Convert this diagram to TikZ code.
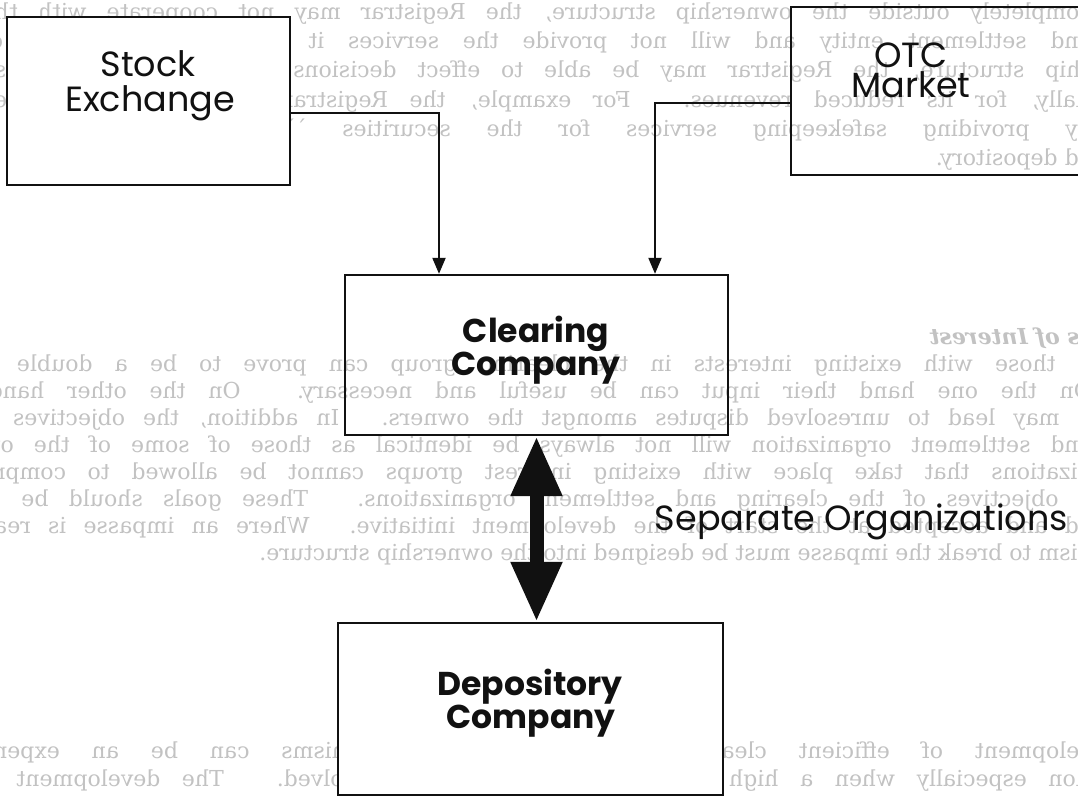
\documentclass[tikz,border=0pt]{standalone}
\usepackage{fontspec}
\usetikzlibrary{arrows.meta,calc}
\newfontfamily\bgserif{DejaVu Serif}
\newfontfamily\gothic{Poppins}
\definecolor{ink}{HTML}{111111}
\definecolor{showthrough}{HTML}{C2C2C2}
\begin{document}
\begin{tikzpicture}[x=1pt,y=-1pt,
  box/.style={draw=ink, line width=2.3pt, inner sep=0pt, rectangle},
  solidbox/.style={box, fill=white},
  lbl/.style={anchor=base, inner sep=0pt, text=ink, font=\gothic\fontsize{35}{35}\selectfont},
  blbl/.style={anchor=base, inner sep=0pt, text=ink, font=\gothic\bfseries\fontsize{33}{33}\selectfont},
  conn/.style={draw=ink, line width=2pt, -{Triangle[width=13pt,length=16pt]}},
  dblarrow/.style={draw=ink, line width=14pt, {Triangle[width=48pt,length=60pt]}-{Triangle[width=48pt,length=60pt]}},
  bgline/.style={anchor=base west, inner sep=0pt, transform shape, text=showthrough, font=\bgserif\fontsize{22}{22}\selectfont},
  bghead/.style={bgline, font=\bgserif\bfseries\itshape\fontsize{22}{22}\selectfont},
]
\useasboundingbox (0,0) rectangle (1078,799);
\fill[white] (0,0) rectangle (1078,799);

\begin{scope}
\clip (0,0) rectangle (1078,799);

% text printed on the reverse of the sheet, showing through mirrored
\begin{scope}[shift={(1078,0)}, xscale=-1]
  \node[bgline] (r1) at (-14,20) {\makebox[1110pt][s]{completely outside the ownership structure, the Registrar may not cooperate with the}};
  \node[bgline] (r2) at (-14,49) {\makebox[1110pt][s]{and settlement entity and will not provide the services it requires.  As part of}};
  \node[bgline] (r3) at (-14,78) {\makebox[1110pt][s]{ship structure, the Registrar may be able to effect decisions that would compromise}};
  \node[bgline] (r4) at (-14,108) {\makebox[1110pt][s]{tially, for its reduced revenues.  For example, the Registrar may decide it is nec}};
  \node[bgline] (r5) at (-14,137) {\makebox[1110pt][s]{by providing safekeeping services for the securities ``immobilized'' within a}};
  \node[bgline] (r6) at (-14,166) {ed depository.};

  \node[bghead] (h2) at (-2,344) {s of Interest};
  \node[bgline] (m1) at (-14,371) {\makebox[1110pt][s]{g those with existing interests in the clearing group can prove to be a double e}};
  \node[bgline] (m2) at (-14,398) {\makebox[1110pt][s]{On the one hand their input can be useful and necessary.  On the other hand,}};
  \node[bgline] (m3) at (-14,425) {\makebox[1110pt][s]{n may lead to unresolved disputes amongst the owners.  In addition, the objectives o}};
  \node[bgline] (m4) at (-14,452) {\makebox[1110pt][s]{and settlement organization will not always be identical as those of some of the ow}};
  \node[bgline] (m5) at (-14,479) {\makebox[1110pt][s]{nizations that take place with existing interest groups cannot be allowed to compro}};
  \node[bgline] (m6) at (-14,506) {\makebox[1110pt][s]{e objectives of the clearing and settlement organizations.  These goals should be cl}};
  \node[bgline] (m7) at (-14,533) {\makebox[1110pt][s]{ed and accepted at the start of the development initiative.  Where an impasse is reac}};
  \node[bgline] (m8) at (-14,560) {nism to break the impasse must be designed into the ownership structure.};

  \node[bgline] (b1) at (-14,758) {\makebox[1110pt][s]{velopment of efficient clearing and settlement mechanisms can be an expens}};
  \node[bgline] (b2) at (-14,786) {\makebox[1110pt][s]{tion especially when a high degree of automation is involved.  The development o}};
\end{scope}

% boxes
\node[solidbox, minimum width=283pt, minimum height=168pt] (se) at (148.5,101) {};
\node[box, minimum width=319pt, minimum height=168pt] (otc) at (950.5,91) {};
\node[box, minimum width=383pt, minimum height=160pt] (clear) at (536.5,355) {};
\node[solidbox, minimum width=385pt, minimum height=172pt] (dep) at (530.5,709) {};

% box texts
\node[lbl] (se1) at (148,77) {Stock};
\node[lbl] (se2) at (150,112) {Exchange};
\node[lbl] (otc1) at (911,68) {OTC};
\node[lbl] (otc2) at (911,98) {Market};
\node[blbl] (cl1) at (536,342) {Clearing};
\node[blbl] (cl2) at (536,375) {Company};
\node[blbl] (dp1) at (530,695) {Depository};
\node[blbl] (dp2) at (531,728) {Company};

% connectors
\draw[conn] (se.east |- 0,113) -| (439,0 |- clear.north);
\draw[conn] (otc.west |- 0,103) -| (655,0 |- clear.north);
\draw[dblarrow] (clear.south) -- (clear.south |- dep.north);

\node[lbl, anchor=base east] (sep) at (1068,530) {Separate Organizations};
\end{scope}
\end{tikzpicture}
\end{document}
